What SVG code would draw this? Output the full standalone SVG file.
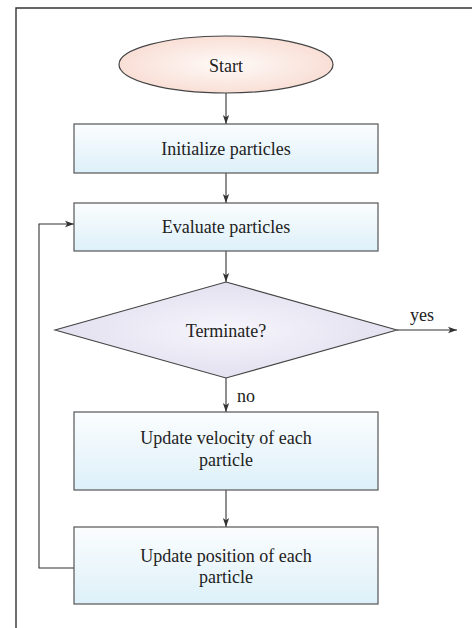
<svg xmlns="http://www.w3.org/2000/svg" width="472" height="628" viewBox="0 0 472 628">
  <style>
    .lbl { font-family: "Liberation Serif", "Times New Roman", serif; font-size: 18px; fill: #222; text-anchor: middle; }
    .box { fill: url(#boxFill); stroke: #555; stroke-width: 1.2; }
    .edge { fill: none; stroke: #333; stroke-width: 1.1; }
    .frame { fill: none; stroke: #333; stroke-width: 1.4; }
  </style>
  <defs>
    <linearGradient id="boxFill" x1="0" y1="0" x2="0" y2="1">
      <stop offset="0" stop-color="#fbfdfe"/>
      <stop offset="1" stop-color="#ddf0f9"/>
    </linearGradient>
    <radialGradient id="ovalFill" cx="0.5" cy="0.5" r="0.5">
      <stop offset="0" stop-color="#fefaf8"/>
      <stop offset="1" stop-color="#f9dfd6"/>
    </radialGradient>
    <radialGradient id="diamondFill" cx="0.5" cy="0.5" r="0.5">
      <stop offset="0" stop-color="#f6f5fb"/>
      <stop offset="1" stop-color="#e3e0f0"/>
    </radialGradient>
    <marker id="arrow" viewBox="0 0 10 10" refX="10" refY="5" markerWidth="9" markerHeight="9" markerUnits="userSpaceOnUse" orient="auto">
      <path d="M0,1.5 L10,5 L0,8.5 L2.5,5 Z" fill="#333"/>
    </marker>
  </defs>

  <!-- outer frame -->
  <path class="frame" d="M16,628 L16,8 L472,8"/>

  <g id="connectors">
    <line class="edge" x1="226" y1="93" x2="226" y2="124" marker-end="url(#arrow)"/>
    <line class="edge" x1="226" y1="173" x2="226" y2="203" marker-end="url(#arrow)"/>
    <line class="edge" x1="226" y1="251" x2="226" y2="282" marker-end="url(#arrow)"/>
    <line class="edge" x1="226" y1="378" x2="226" y2="412" marker-end="url(#arrow)"/>
    <line class="edge" x1="226" y1="490" x2="226" y2="527" marker-end="url(#arrow)"/>
    <line class="edge" x1="397" y1="330" x2="457" y2="330" marker-end="url(#arrow)"/>
    <polyline class="edge" points="74,568 39,568 39,224 74,224" marker-end="url(#arrow)"/>
    <text class="lbl" x="422" y="321">yes</text>
    <text class="lbl" x="246" y="402">no</text>
  </g>

  <g id="start">
    <ellipse cx="226" cy="64.5" rx="107" ry="28.5" fill="url(#ovalFill)" stroke="#444" stroke-width="1.2"/>
    <text class="lbl" x="226" y="72">Start</text>
  </g>

  <g id="init">
    <rect class="box" x="74" y="124" width="304" height="49"/>
    <text class="lbl" x="226" y="155">Initialize particles</text>
  </g>

  <g id="evaluate">
    <rect class="box" x="74" y="203" width="304" height="48"/>
    <text class="lbl" x="226" y="233">Evaluate particles</text>
  </g>

  <g id="terminate">
    <polygon points="226,282 397,330 226,378 55,330" fill="url(#diamondFill)" stroke="#444" stroke-width="1.1"/>
    <text class="lbl" x="226" y="337">Terminate?</text>
  </g>

  <g id="velocity">
    <rect class="box" x="74" y="412" width="304" height="78"/>
    <text class="lbl" x="226" y="444">Update velocity of each</text>
    <text class="lbl" x="226" y="466">particle</text>
  </g>

  <g id="position">
    <rect class="box" x="74" y="527" width="304" height="77"/>
    <text class="lbl" x="226" y="562">Update position of each</text>
    <text class="lbl" x="226" y="583">particle</text>
  </g>
</svg>
